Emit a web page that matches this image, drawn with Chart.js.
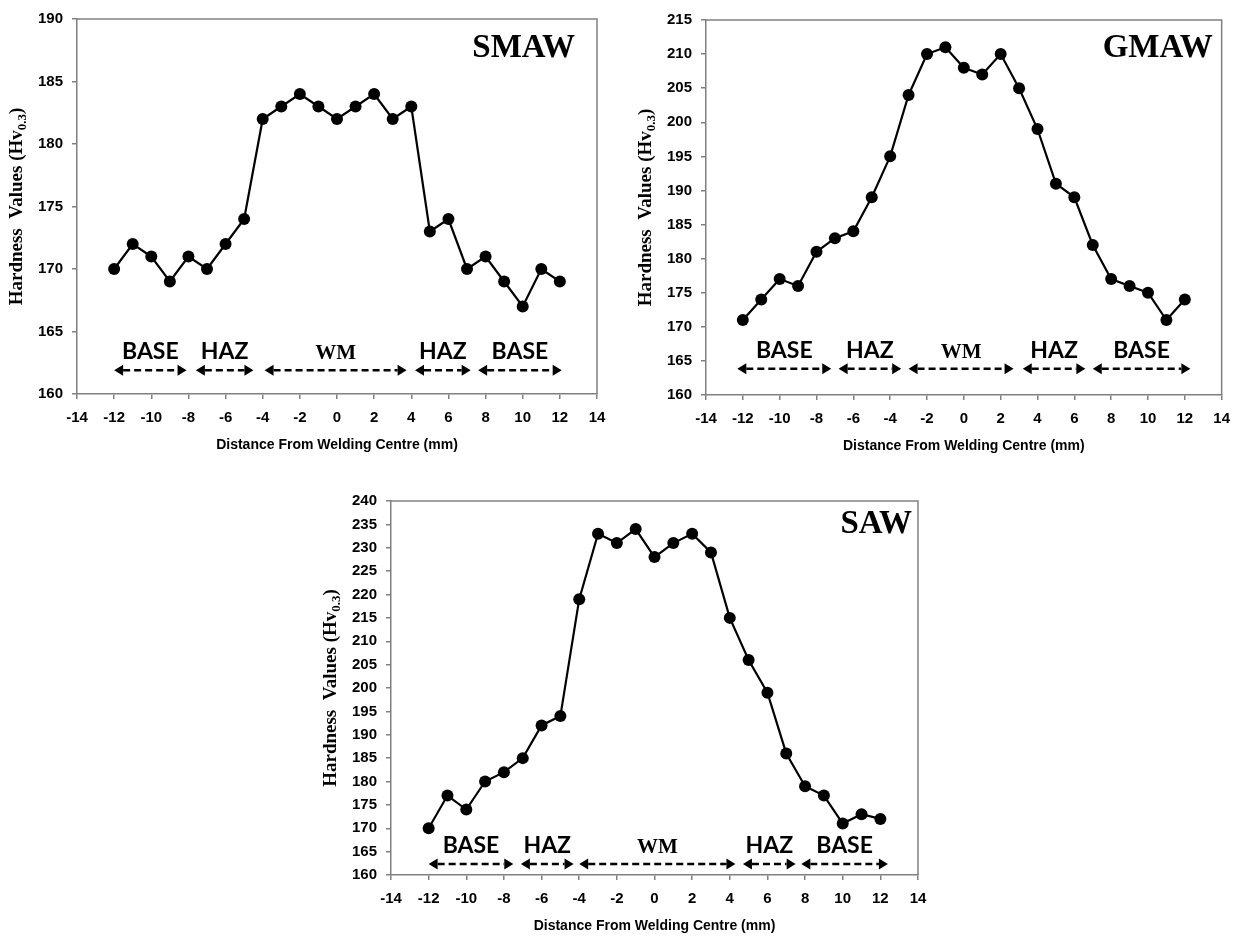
<!DOCTYPE html>
<html lang="en">
<head>
    <meta charset="UTF-8">
    <title>Hardness Profiles - SMAW / GMAW / SAW</title>
    <script src="https://cdn.jsdelivr.net/npm/chart.js"></script>
    <style>
        body { margin: 0; background: #fff; }
        #wrap { position: relative; width: 1240px; height: 936px; }
        canvas { position: absolute; }
    </style>
</head>
<body>
<div id="wrap">
    <canvas id="smawChart" width="620" height="470" style="left:0;top:0"></canvas>
    <canvas id="gmawChart" width="620" height="470" style="left:620px;top:0"></canvas>
    <canvas id="sawChart" width="640" height="460" style="left:300px;top:476px"></canvas>
</div>
<script>
    // Distance from welding centre (mm)
    const distances = [-12, -11, -10, -9, -8, -7, -6, -5, -4, -3, -2, -1, 0, 1, 2, 3, 4, 5, 6, 7, 8, 9, 10, 11, 12];

    // Hardness values (Hv0.3)
    const smawHardness = [170, 172, 171, 169, 171, 170, 172, 174, 182, 183, 184, 183, 182, 183, 184, 182, 183, 173, 174, 170, 171, 169, 167, 170, 169];
    const gmawHardness = [171, 174, 177, 176, 181, 183, 184, 189, 195, 204, 210, 211, 208, 207, 210, 205, 199, 191, 189, 182, 177, 176, 175, 171, 174];
    const sawHardness  = [170, 177, 174, 180, 182, 185, 192, 194, 219, 233, 231, 234, 228, 231, 233, 229, 215, 206, 199, 186, 179, 177, 171, 173, 172];

    // weld zones (start / end in mm)
    const zoneNames = ['BASE', 'HAZ', 'WM', 'HAZ', 'BASE'];
    const smawZoneStart = [-12, -7.6, -3.9, 4.2, 7.6];
    const smawZoneEnd   = [-8.1, -4.5, 3.75, 7.2, 12.1];
    const gmawZoneStart = [-12.3, -6.8, -3, 3.2, 7];
    const gmawZoneEnd   = [-7.2, -3.4, 2.7, 6.6, 12.3];
    const sawZoneStart  = [-12, -7.1, -4, 4.7, 7.8];
    const sawZoneEnd    = [-7.5, -4.3, 4.3, 7.5, 12.4];

    const axisGrey = '#808080';

    function decorPlugin(opt) {
        return {
            id: 'decor',
            beforeDatasetsDraw(chart) {
                const { ctx, chartArea: a } = chart;
                ctx.save();
                ctx.strokeStyle = axisGrey;
                ctx.lineWidth = 1.5;
                ctx.beginPath();
                ctx.moveTo(a.left, a.top);
                ctx.lineTo(a.right, a.top);
                ctx.lineTo(a.right, a.bottom);
                ctx.stroke();
                ctx.restore();
            },
            afterDatasetsDraw(chart) {
                const { ctx, chartArea: a } = chart;
                const xs = chart.scales.x, ys = chart.scales.y;
                const ay = ys.getPixelForValue(opt.arrowLevel);
                ctx.save();
                ctx.fillStyle = '#000';
                ctx.strokeStyle = '#000';
                for (let i = 0; i < zoneNames.length; i++) {
                    const x1 = xs.getPixelForValue(opt.zoneStart[i]);
                    const x2 = xs.getPixelForValue(opt.zoneEnd[i]);
                    const head = 9;
                    // dashed shaft
                    ctx.lineWidth = 2.5;
                    ctx.setLineDash([7, 4]);
                    ctx.beginPath();
                    ctx.moveTo(x1 + head, ay);
                    ctx.lineTo(x2 - head, ay);
                    ctx.stroke();
                    ctx.setLineDash([]);
                    // arrow heads
                    ctx.beginPath();
                    ctx.moveTo(x1, ay);
                    ctx.lineTo(x1 + head, ay - 5.5);
                    ctx.lineTo(x1 + head, ay + 5.5);
                    ctx.closePath();
                    ctx.fill();
                    ctx.beginPath();
                    ctx.moveTo(x2, ay);
                    ctx.lineTo(x2 - head, ay - 5.5);
                    ctx.lineTo(x2 - head, ay + 5.5);
                    ctx.closePath();
                    ctx.fill();
                    // zone name
                    ctx.textAlign = 'center';
                    ctx.textBaseline = 'alphabetic';
                    ctx.font = zoneNames[i] === 'WM' ? 'bold 21px "Liberation Serif"' : 'bold 23px Lato';
                    ctx.fillText(zoneNames[i], (x1 + x2) / 2, ay - 11);
                }

                // process name
                ctx.font = 'bold 33px "Liberation Serif"';
                ctx.textAlign = 'right';
                ctx.fillText(opt.title, a.right - opt.titleInset, a.top + opt.titleDrop);

                // x title
                ctx.font = 'bold 14px "Liberation Sans"';
                ctx.textAlign = 'center';
                ctx.textBaseline = 'middle';
                ctx.fillText('Distance From Welding Centre (mm)', (a.left + a.right) / 2, a.bottom + 51);

                // y title with subscript
                ctx.translate(a.left - 60, (a.top + a.bottom) / 2);
                ctx.rotate(-Math.PI / 2);
                const main = 'Hardness  Values (Hv';
                ctx.font = 'bold 19px "Liberation Serif"';
                const w1 = ctx.measureText(main).width;
                const w3 = ctx.measureText(')').width;
                ctx.font = 'bold 13px "Liberation Serif"';
                const w2 = ctx.measureText('0.3').width;
                let tx = -(w1 + w2 + w3) / 2;
                ctx.textAlign = 'left';
                ctx.font = 'bold 19px "Liberation Serif"';
                ctx.fillText(main, tx, 0);
                tx += w1;
                ctx.font = 'bold 13px "Liberation Serif"';
                ctx.fillText('0.3', tx, 6);
                tx += w2;
                ctx.font = 'bold 19px "Liberation Serif"';
                ctx.fillText(')', tx, 0);
                ctx.restore();
            }
        };
    }

    function makeChart(id, values, opt) {
        const canvas = document.getElementById(id);
        const tickFont = { family: 'Liberation Sans', size: 15, weight: 'bold' };
        return new Chart(canvas.getContext('2d'), {
            type: 'line',
            data: {
                datasets: [{
                    data: distances.map((d, i) => ({ x: d, y: values[i] })),
                    borderColor: '#000',
                    borderWidth: 2.2,
                    pointRadius: 6,
                    pointBackgroundColor: '#000',
                    pointBorderColor: '#000',
                    pointBorderWidth: 0,
                    tension: 0,
                    fill: false
                }]
            },
            options: {
                responsive: false,
                animation: false,
                layout: {
                    padding: {
                        left: opt.area.left - 50,
                        top: opt.area.top,
                        right: canvas.width - opt.area.right,
                        bottom: canvas.height - opt.area.bottom - 40
                    }
                },
                plugins: { legend: { display: false }, tooltip: { enabled: false } },
                scales: {
                    x: {
                        type: 'linear', min: -14, max: 14,
                        ticks: { stepSize: 2, color: '#000', font: tickFont, padding: 10, maxRotation: 0, autoSkip: false },
                        grid: { drawOnChartArea: false, tickLength: 5, color: axisGrey, lineWidth: 1.5 },
                        border: { color: axisGrey, width: 1.5 },
                        afterFit(s) { s.height = 40; }
                    },
                    y: {
                        min: opt.yMin, max: opt.yMax,
                        ticks: { stepSize: 5, color: '#000', font: tickFont, padding: 9, autoSkip: false },
                        grid: { drawOnChartArea: false, tickLength: 5, color: axisGrey, lineWidth: 1.5 },
                        border: { color: axisGrey, width: 1.5 },
                        afterFit(s) { s.width = 50; }
                    }
                }
            },
            plugins: [decorPlugin(opt)]
        });
    }

    makeChart('smawChart', smawHardness, {
        title: 'SMAW', yMin: 160, yMax: 190, arrowLevel: 161.9,
        zoneStart: smawZoneStart, zoneEnd: smawZoneEnd,
        area: { left: 77, top: 19, right: 597, bottom: 394 },
        titleInset: 22, titleDrop: 38
    });
    makeChart('gmawChart', gmawHardness, {
        title: 'GMAW', yMin: 160, yMax: 215, arrowLevel: 163.85,
        zoneStart: gmawZoneStart, zoneEnd: gmawZoneEnd,
        area: { left: 86, top: 20, right: 605, bottom: 395 },
        titleInset: 9, titleDrop: 37
    });
    makeChart('sawChart', sawHardness, {
        title: 'SAW', yMin: 160, yMax: 240, arrowLevel: 162.35,
        zoneStart: sawZoneStart, zoneEnd: sawZoneEnd,
        area: { left: 91, top: 25, right: 618, bottom: 399 },
        titleInset: 6, titleDrop: 32
    });
</script>
</body>
</html>
